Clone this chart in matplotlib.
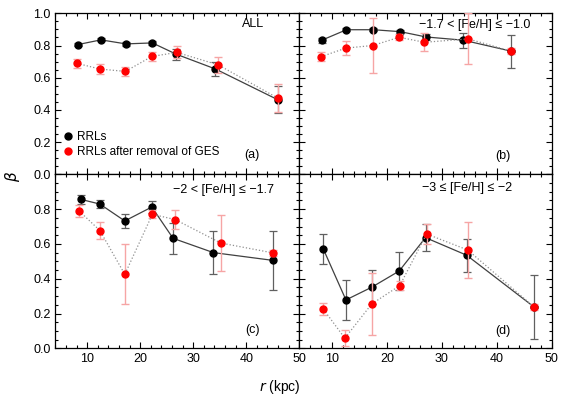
import matplotlib
matplotlib.use("Agg")
import matplotlib.pyplot as plt
from matplotlib.lines import Line2D
from matplotlib.ticker import MultipleLocator

plt.rcParams['font.family'] = ['Liberation Sans', 'DejaVu Sans']

# ---- data ----
r_a_all = [8.3, 12.6, 17.3, 22.3, 26.8, 34.2, 45.9]
beta_a_all = [0.806, 0.835, 0.810, 0.816, 0.746, 0.654, 0.464]
err_a_all = [0.01, 0.01, 0.01, 0.01, 0.034, 0.045, 0.085]
r_a_noges = [8.1, 12.4, 17.2, 22.2, 26.9, 34.7, 45.9]
beta_a_noges = [0.689, 0.654, 0.639, 0.732, 0.757, 0.680, 0.474]
err_a_noges = [0.027, 0.03, 0.028, 0.027, 0.037, 0.049, 0.085]

r_b_all = [8.1, 12.6, 17.5, 22.4, 27.1, 33.9, 42.6]
beta_b_all = [0.833, 0.898, 0.898, 0.886, 0.853, 0.833, 0.765]
err_b_all = [0.015, 0.01, 0.01, 0.01, 0.02, 0.046, 0.102]
r_b_noges = [8.0, 12.5, 17.4, 22.2, 26.8, 34.8, 42.6]
beta_b_noges = [0.731, 0.784, 0.80, 0.851, 0.82, 0.841, 0.765]
err_b_noges = [0.03, 0.044, 0.172, 0.018, 0.056, 0.158, 0.02]

r_c_all = [8.8, 12.4, 17.1, 22.2, 26.2, 33.8, 45.1]
beta_c_all = [0.856, 0.829, 0.732, 0.812, 0.632, 0.55, 0.505]
err_c_all = [0.024, 0.025, 0.04, 0.035, 0.09, 0.123, 0.168]
r_c_noges = [8.5, 12.4, 17.1, 22.3, 26.6, 35.2, 45.1]
beta_c_noges = [0.789, 0.677, 0.425, 0.770, 0.74, 0.605, 0.548]
err_c_noges = [0.034, 0.047, 0.173, 0.022, 0.054, 0.16, 0.017]

r_d_all = [8.4, 12.5, 17.2, 22.2, 27.0, 34.5, 46.8]
beta_d_all = [0.569, 0.278, 0.351, 0.444, 0.636, 0.535, 0.237]
err_d_all = [0.086, 0.117, 0.098, 0.107, 0.077, 0.095, 0.184]
r_d_noges = [8.4, 12.3, 17.2, 22.3, 27.2, 34.7, 46.8]
beta_d_noges = [0.224, 0.058, 0.255, 0.360, 0.657, 0.565, 0.237]
err_d_noges = [0.035, 0.046, 0.178, 0.024, 0.057, 0.162, 0.017]

panel_titles = ["ALL", "\u22121.7 < [Fe/H] \u2264 \u22121.0",
                "\u22122 < [Fe/H] \u2264 \u22121.7", "\u22123 \u2264 [Fe/H] \u2264 \u22122"]
panel_tags = ["(a)", "(b)", "(c)", "(d)"]
legend_labels = ["RRLs", "RRLs after removal of GES"]
x_ticks = [10, 20, 30, 40, 50]
y_ticks = [0.0, 0.2, 0.4, 0.6, 0.8, 1.0]

panels = [
    (r_a_all, beta_a_all, err_a_all, r_a_noges, beta_a_noges, err_a_noges),
    (r_b_all, beta_b_all, err_b_all, r_b_noges, beta_b_noges, err_b_noges),
    (r_c_all, beta_c_all, err_c_all, r_c_noges, beta_c_noges, err_c_noges),
    (r_d_all, beta_d_all, err_d_all, r_d_noges, beta_d_noges, err_d_noges),
]

W, H = 567, 401
fig = plt.figure(figsize=(W / 100, H / 100), dpi=100)
xl, xm, xr = 55.3, 299.3, 551.7
yt, ym, yb = 13.3, 174.3, 348.3
rects = [
    (xl / W, 1 - ym / H, (xm - xl) / W, (ym - yt) / H),
    (xm / W, 1 - ym / H, (xr - xm) / W, (ym - yt) / H),
    (xl / W, 1 - yb / H, (xm - xl) / W, (yb - ym) / H),
    (xm / W, 1 - yb / H, (xr - xm) / W, (yb - ym) / H),
]

title_pos = [(0.81, 0.934), (0.696, 0.929), (0.689, 0.91), (0.663, 0.92)]
tag_pos = [(0.805, 0.12), (0.808, 0.116), (0.81, 0.105), (0.808, 0.10)]

fs = 9
for i, (rect, data) in enumerate(zip(rects, panels)):
    ax = fig.add_axes(rect)
    ra, ba, ea, rn, bn, en = data
    ax.errorbar(ra, ba, yerr=ea, fmt='none', ecolor='#606060', elinewidth=0.9,
                capsize=3, capthick=0.9, zorder=2)
    ax.plot(ra, ba, '-', color='#404040', lw=0.9, zorder=3)
    ax.plot(ra, ba, 'o', color='black', ms=5.0, mec='black', zorder=4)
    ax.errorbar(rn, bn, yerr=en, fmt='none', ecolor='#f6a5a5', elinewidth=1.0,
                capsize=3, capthick=1.0, zorder=5)
    ax.plot(rn, bn, ':', color='#909090', lw=0.9, zorder=6)
    ax.plot(rn, bn, 'o', color='red', ms=5.0, mec='red', zorder=7)

    ax.set_xlim(4, 50)
    ax.set_ylim(0, 1.0)
    ax.set_xticks(x_ticks)
    ax.set_yticks(y_ticks)
    ax.xaxis.set_minor_locator(MultipleLocator(2))
    ax.yaxis.set_minor_locator(MultipleLocator(0.05))
    ax.tick_params(which='both', direction='in', top=True, right=True,
                   labelsize=fs, width=0.8)
    ax.tick_params(which='major', length=4.5)
    ax.tick_params(which='minor', length=2.2)
    for s in ax.spines.values():
        s.set_linewidth(0.9)

    if i in (0, 1):
        ax.set_xticklabels([])
    if i in (1, 3):
        ax.set_yticklabels([])
    if i == 2:
        ax.set_yticklabels(["0.0", "0.2", "0.4", "0.6", "0.8", ""])
    if i == 0:
        ax.set_yticklabels(["0.0", "0.2", "0.4", "0.6", "0.8", "1.0"])

    ax.text(*title_pos[i], panel_titles[i], transform=ax.transAxes,
            ha='center', va='center', fontsize=9)
    ax.text(*tag_pos[i], panel_tags[i], transform=ax.transAxes,
            ha='center', va='center', fontsize=9)

    if i == 0:
        handles = [Line2D([], [], marker='o', color='black', ls='none', ms=5.0),
                   Line2D([], [], marker='o', color='red', ls='none', ms=5.0)]
        ax.legend(handles, legend_labels, loc='lower left',
                  bbox_to_anchor=(0.0, 0.05), frameon=False, fontsize=8.5,
                  handlelength=0.8, handletextpad=0.3, labelspacing=0.25,
                  borderaxespad=0.3)

fig.text(12 / W, 1 - 176 / H, r"$\beta$", rotation=90, ha='center', va='center',
         fontsize=11)
fig.text(280 / W, 1 - 387 / H, r"$r$ (kpc)", ha='center', va='center',
         fontsize=10)

fig.savefig("out.png", dpi=100)
